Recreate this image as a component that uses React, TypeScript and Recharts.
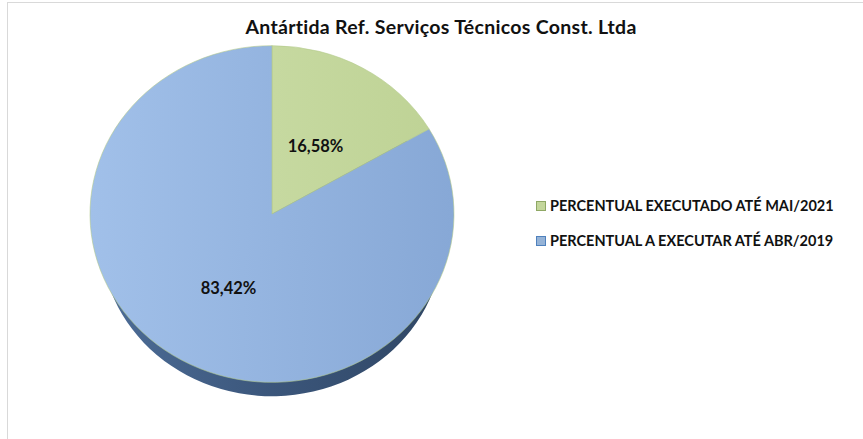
import { PieChart, Pie, Cell } from 'recharts'

// valores (%)
const categorias = ['PERCENTUAL EXECUTADO ATÉ MAI/2021', 'PERCENTUAL A EXECUTAR ATÉ ABR/2019']
const percentuais = [16.58, 83.42]
const rotulos = ['16,58%', '83,42%']

const titulo = 'Antártida Ref. Serviços Técnicos Const. Ltda'

const cores = ['url(#faceVerde)', 'url(#faceAzul)']
const coresLegenda = ['#c3d69b', '#95b3d7']
const bordasLegenda = ['#8fa865', '#4f81bd']

const dados = categorias.map((nome, i) => ({ nome, valor: percentuais[i], rotulo: rotulos[i] }))

const CX = 272
const CY = 214
const RAIO = 182
const RAIO_LATERAL = 171
const ESCALA_Y = 0.925
const ESPESSURA = 26
const FONTE = 'Lato, "Open Sans", sans-serif'

const RAD = Math.PI / 180

interface LabelProps {
  cx?: number
  cy?: number
  midAngle?: number
  outerRadius?: number
  index?: number
}

// rótulos no gráfico sem achatamento; a perspectiva é aplicada à mão
function Rotulo({ cx = 0, cy = 0, midAngle = 0, outerRadius = 0, index = 0 }: LabelProps) {
  const r = outerRadius * 0.48
  const seno = Math.sin(-midAngle * RAD)
  const x = cx + r * Math.cos(-midAngle * RAD)
  const y = cy + r * seno * (seno < 0 ? 0.9 : 0.98)
  return (
    <text
      x={x}
      y={y}
      textAnchor="middle"
      dominantBaseline="central"
      fontFamily={FONTE}
      fontWeight={700}
      fontSize={16.5}
      fill="#111"
    >
      {rotulos[index]}
    </text>
  )
}

function Legenda() {
  return (
    <div
      style={{
        position: 'absolute',
        left: 536,
        top: 188,
        fontFamily: FONTE,
        fontWeight: 700,
        fontSize: 14.5,
        color: '#111',
        whiteSpace: 'nowrap',
      }}
    >
      {categorias.map((c, i) => (
        <div key={c} style={{ display: 'flex', alignItems: 'center', height: 35 }}>
          <span
            style={{
              width: 8,
              height: 8,
              background: coresLegenda[i],
              border: `1px solid ${bordasLegenda[i]}`,
              marginRight: 4,
            }}
          />
          {c}
        </div>
      ))}
    </div>
  )
}

export default function App() {
  return (
    <div style={{ position: 'fixed', left: 0, top: 0, width: 863, height: 439, background: '#fff', overflow: 'hidden' }}>
      <div
        style={{
          position: 'absolute',
          left: 7,
          top: 2,
          width: 870,
          height: 450,
          border: '1px solid #d9d9d9',
          boxSizing: 'border-box',
        }}
      />
      <div
        style={{
          position: 'absolute',
          left: 0,
          top: 15,
          width: 882,
          textAlign: 'center',
          fontFamily: FONTE,
          fontWeight: 700,
          fontSize: 19.5,
          letterSpacing: 0.3,
          color: '#111',
        }}
      >
        {titulo}
      </div>

      {/* face + espessura, achatadas em Y */}
      <div
        style={{
          position: 'absolute',
          left: 0,
          top: 0,
          width: 863,
          height: 439,
          transform: `scaleY(${ESCALA_Y})`,
          transformOrigin: `${CX}px ${CY}px`,
        }}
      >
        <PieChart width={863} height={439} margin={{ top: 0, right: 0, bottom: 0, left: 0 }}>
          <defs>
            <linearGradient id="faceAzul" x1="0" y1="0" x2="1" y2="0">
              <stop offset="0%" stopColor="#a1c0e9" />
              <stop offset="100%" stopColor="#87a8d6" />
            </linearGradient>
            <linearGradient id="faceVerde" x1="0" y1="0" x2="1" y2="0">
              <stop offset="0%" stopColor="#c6d9a0" />
              <stop offset="100%" stopColor="#bfd396" />
            </linearGradient>
            <linearGradient id="lateral" x1="0" y1="0" x2="1" y2="0">
              <stop offset="0%" stopColor="#4d6d97" />
              <stop offset="50%" stopColor="#3b567b" />
              <stop offset="100%" stopColor="#2f4664" />
            </linearGradient>
          </defs>
          <Pie
            data={dados}
            dataKey="valor"
            nameKey="nome"
            cx={CX}
            cy={CY + ESPESSURA}
            outerRadius={RAIO_LATERAL}
            startAngle={90}
            endAngle={-270}
            stroke="none"
            isAnimationActive={false}
          >
            {dados.map((d) => (
              <Cell key={d.nome} fill="url(#lateral)" />
            ))}
          </Pie>
          <Pie
            data={dados}
            dataKey="valor"
            nameKey="nome"
            cx={CX}
            cy={CY}
            outerRadius={RAIO}
            startAngle={90}
            endAngle={-270}
            stroke="#b3c98a"
            strokeWidth={0.6}
            isAnimationActive={false}
          >
            {dados.map((d, i) => (
              <Cell key={d.nome} fill={cores[i]} />
            ))}
          </Pie>
        </PieChart>
      </div>

      {/* camada de rótulos */}
      <div style={{ position: 'absolute', left: 0, top: 0 }}>
        <PieChart width={863} height={439} margin={{ top: 0, right: 0, bottom: 0, left: 0 }}>
          <Pie
            data={dados}
            dataKey="valor"
            nameKey="nome"
            cx={CX}
            cy={CY}
            outerRadius={RAIO}
            startAngle={90}
            endAngle={-270}
            fill="none"
            stroke="none"
            label={Rotulo}
            labelLine={false}
            isAnimationActive={false}
          />
        </PieChart>
      </div>

      <Legenda />
    </div>
  )
}
